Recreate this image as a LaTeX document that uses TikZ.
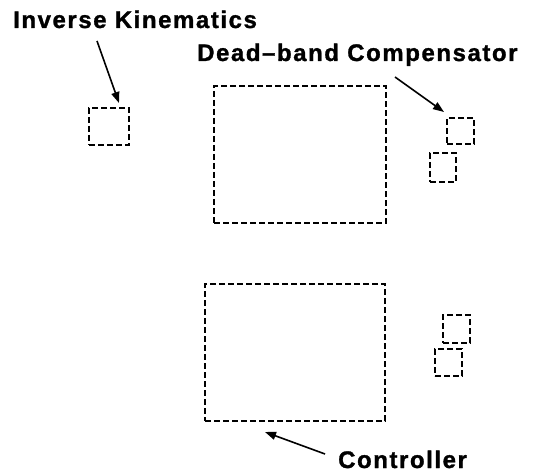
\documentclass[tikz,border=0pt]{standalone}
\usepackage{fontspec}
\setmainfont{Liberation Sans}[LetterSpace=6.5, BoldFeatures={FakeBold=1.2}]
\usetikzlibrary{arrows.meta}
\tikzset{
  dbox/.style={draw=black, line width=1.6pt, dash pattern=on 6pt off 3pt, inner sep=0pt, rectangle},
  lbl/.style={anchor=base west, inner sep=0pt, font=\fontsize{24}{28}\selectfont\bfseries},
  pointer/.style={draw=black, line width=1.6pt, -{Triangle[length=11pt,width=8pt]}}
}
\begin{document}
\begin{tikzpicture}[x=1pt,y=-1pt]
\useasboundingbox (0,0) rectangle (535,473);
% labels
\node[lbl] (iktxt) at (13,28) {Inverse Kinematics};
\node[lbl] (dbtxt) at (197,61) {Dead–band Compensator};
\node[lbl] (cttxt) at (338,468) {Controller};
% boxes
\node[dbox, minimum width=40pt, minimum height=37pt] (ik) at (109,126.5) {};
\node[dbox, minimum width=172pt, minimum height=137pt] (big1) at (300,154.5) {};
\node[dbox, minimum width=27pt, minimum height=26pt] (db1) at (460.5,131) {};
\node[dbox, minimum width=26pt, minimum height=29pt] (db2) at (443,167.5) {};
\node[dbox, minimum width=180pt, minimum height=137pt] (big2) at (295,352.5) {};
\node[dbox, minimum width=27pt, minimum height=28pt] (s3) at (456.5,329) {};
\node[dbox, minimum width=27pt, minimum height=27pt] (s4) at (448.5,362.5) {};
% arrow ends
\coordinate (ikfrom) at (97,41);
\coordinate (ikto) at (119,103);
\coordinate (dbfrom) at (395,77);
\coordinate (dbto) at (444,112);
\coordinate (ctfrom) at (325,454);
\coordinate (ctto) at (265,432);
\draw[pointer] (ikfrom) -- (ikto);
\draw[pointer] (dbfrom) -- (dbto);
\draw[pointer] (ctfrom) -- (ctto);
\end{tikzpicture}
\end{document}
